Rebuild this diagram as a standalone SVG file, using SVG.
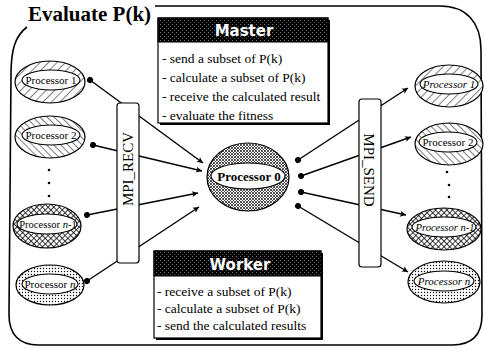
<svg xmlns="http://www.w3.org/2000/svg" width="486" height="350" viewBox="0 0 486 350">
<defs>
<style>
.frame{fill:none;stroke:#000;stroke-width:1.6}
.ttl{font-family:"Liberation Serif",serif;font-weight:bold;font-size:21px;fill:#000}
.box{fill:#fff;stroke:#000;stroke-width:1.2}
.shadow{fill:#000}
.hdr{fill:url(#hdrpat);stroke:#000;stroke-width:1}
.htxt{font-family:"DejaVu Sans",sans-serif;font-weight:bold;font-size:15px;fill:#fff;text-anchor:middle}
.btxt{font-family:"Liberation Serif",serif;font-size:13.5px;fill:#000}
.bar{fill:#fff;stroke:#000;stroke-width:1.2}
.btx{font-family:"Liberation Serif",serif;font-size:15px;fill:#000;text-anchor:middle}
.outer{stroke:#000;stroke-width:1.2}
.inner{fill:#fff;stroke:#000;stroke-width:1.1}
.ptxt{font-family:"Liberation Serif",serif;font-size:11px;fill:#000;text-anchor:middle}
.it{font-style:italic}
.conn{stroke:#000;stroke-width:1.4;fill:none;marker-start:url(#dot);marker-end:url(#arr)}
.pdot{fill:#000}
</style>
<pattern id="hdrpat" width="4" height="4" patternUnits="userSpaceOnUse">
<rect width="4" height="4" fill="#000"/>
<rect x="0" y="0" width="1" height="1" fill="#777"/>
<rect x="2" y="2" width="1" height="1" fill="#555"/>
</pattern>
<pattern id="hatch" width="6" height="6" patternUnits="userSpaceOnUse" patternTransform="rotate(45)">
<rect width="6" height="6" fill="#fff"/>
<line x1="0" y1="0" x2="0" y2="6" stroke="#000" stroke-width="1"/>
</pattern>
<pattern id="hatch2" width="5" height="5" patternUnits="userSpaceOnUse" patternTransform="rotate(-45)">
<rect width="5" height="5" fill="#fff"/>
<line x1="0" y1="0" x2="0" y2="5" stroke="#000" stroke-width="1"/>
</pattern>
<pattern id="cross" width="4" height="4" patternUnits="userSpaceOnUse" patternTransform="rotate(45)">
<rect width="4" height="4" fill="#fff"/>
<line x1="0" y1="0" x2="0" y2="4" stroke="#000" stroke-width="1.5"/>
<line x1="0" y1="0" x2="4" y2="0" stroke="#000" stroke-width="1.5"/>
</pattern>
<pattern id="dots" width="3" height="3" patternUnits="userSpaceOnUse">
<rect width="3" height="3" fill="#fff"/>
<circle cx="1.5" cy="1.5" r="0.7" fill="#000"/>
</pattern>
<pattern id="stip" width="3" height="3" patternUnits="userSpaceOnUse">
<rect width="3" height="3" fill="#fff"/>
<circle cx="1" cy="1" r="0.9" fill="#000"/>
<circle cx="2.5" cy="2.5" r="0.5" fill="#000"/>
</pattern>
<marker id="arr" viewBox="0 0 10 10" refX="10" refY="5" markerWidth="7" markerHeight="6" markerUnits="userSpaceOnUse" orient="auto" overflow="visible">
<path d="M0,0 L10,5 L0,10 L2.5,5 Z" fill="#000"/>
</marker>
<marker id="dot" viewBox="0 0 10 10" refX="5" refY="5" markerWidth="6" markerHeight="6" markerUnits="userSpaceOnUse" orient="auto">
<circle cx="5" cy="5" r="5" fill="#000"/>
</marker>
</defs>
<rect width="486" height="350" fill="#fff"/>

<g id="frame">
<path class="frame" d="M155,6 L440,6 C466,6 481,22 481,50 L482,315 C482,335 472,345 452,345 L38,345 C20,345 9,335 9,315 L11,75 C11,50 15,36 27,27"/>
<text class="ttl" x="28" y="21">Evaluate P(k)</text>
</g>

<g id="connectors">
<line class="conn" x1="90" y1="80" x2="203" y2="163"/>
<line class="conn" x1="93" y1="145" x2="202" y2="171"/>
<line class="conn" x1="87" y1="215" x2="198" y2="193"/>
<line class="conn" x1="87" y1="281" x2="199" y2="207"/>
<line class="conn" x1="298" y1="160" x2="408" y2="88"/>
<line class="conn" x1="301" y1="176" x2="411" y2="137"/>
<line class="conn" x1="301" y1="192" x2="406" y2="215"/>
<line class="conn" x1="298" y1="206" x2="408" y2="272"/>
</g>

<g id="mpi_recv">
<rect class="bar" x="117" y="103" width="22" height="160" rx="3"/>
<text class="btx" transform="translate(133,169) rotate(-90)">MPI_RECV</text>
</g>
<g id="mpi_send">
<rect class="bar" x="359" y="99" width="22" height="168" rx="3"/>
<text class="btx" transform="translate(364,170) rotate(90)">MPI_SEND</text>
</g>

<g id="master">
<rect class="shadow" x="160" y="20" width="170" height="105"/>
<rect class="box" x="158" y="18" width="170" height="105"/>
<rect class="hdr" x="158" y="18" width="170" height="24"/>
<text class="htxt" x="244" y="36">Master</text>
<text class="btxt" x="162" y="63">- send a subset of P(k)</text>
<text class="btxt" x="162" y="82">- calculate a subset of P(k)</text>
<text class="btxt" x="162" y="101">- receive the calculated result</text>
<text class="btxt" x="162" y="120">- evaluate the fitness</text>
</g>

<g id="worker">
<rect class="shadow" x="156" y="253" width="167" height="87"/>
<rect class="box" x="154" y="251" width="167" height="87"/>
<rect class="hdr" x="154" y="251" width="167" height="25"/>
<text class="htxt" x="240" y="270">Worker</text>
<text class="btxt" x="157" y="296">- receive a subset of P(k)</text>
<text class="btxt" x="157" y="313">- calculate a subset of P(k)</text>
<text class="btxt" x="157" y="330">- send the calculated results</text>
</g>

<g id="processor0">
<ellipse class="outer" cx="248" cy="177" rx="41" ry="34" fill="url(#stip)"/>
<ellipse class="inner" cx="248" cy="176" rx="37" ry="13"/>
<text class="ptxt" x="249" y="181" style="font-weight:bold;font-size:13px">Processor 0</text>
</g>

<g id="left_p1">
<ellipse class="outer" cx="50" cy="82" rx="35" ry="21" fill="url(#hatch)"/>
<ellipse class="inner" cx="51" cy="80" rx="29" ry="10"/>
<text class="ptxt" x="51" y="84">Processor 1</text>
</g>
<g id="left_p2">
<ellipse class="outer" cx="50" cy="137" rx="35" ry="21" fill="url(#hatch2)"/>
<ellipse class="inner" cx="51" cy="135" rx="29" ry="10"/>
<text class="ptxt" x="51" y="139">Processor 2</text>
</g>
<g id="left_dots">
<circle class="pdot" cx="49" cy="170" r="1.3"/>
<circle class="pdot" cx="49" cy="183" r="1.3"/>
<circle class="pdot" cx="49" cy="196" r="1.3"/>
</g>
<g id="left_pn1">
<ellipse class="outer" cx="47" cy="226" rx="34" ry="22" fill="url(#cross)"/>
<ellipse class="inner" cx="47" cy="224" rx="30" ry="10"/>
<text class="ptxt" x="48" y="228" style="font-size:10.5px">Processor <tspan class="it">n</tspan>-1</text>
</g>
<g id="left_pn">
<ellipse class="outer" cx="50" cy="285" rx="34" ry="20" fill="url(#dots)"/>
<ellipse class="inner" cx="50" cy="284" rx="28" ry="10"/>
<text class="ptxt" x="50" y="288">Processor <tspan class="it">n</tspan></text>
</g>

<g id="right_p1">
<ellipse class="outer" cx="449" cy="86" rx="34" ry="21" fill="url(#hatch)"/>
<ellipse class="inner" cx="449" cy="84" rx="29" ry="10"/>
<text class="ptxt it" x="449" y="88">Processor 1</text>
</g>
<g id="right_p2">
<ellipse class="outer" cx="449" cy="144" rx="34" ry="21" fill="url(#hatch2)"/>
<ellipse class="inner" cx="448" cy="142" rx="29" ry="10"/>
<text class="ptxt" x="448" y="146">Processor 2</text>
</g>
<g id="right_dots">
<circle class="pdot" cx="447" cy="172" r="1.3"/>
<circle class="pdot" cx="449" cy="185" r="1.3"/>
<circle class="pdot" cx="449" cy="197" r="1.3"/>
</g>
<g id="right_pn1">
<ellipse class="outer" cx="444" cy="229" rx="37" ry="21" fill="url(#cross)"/>
<ellipse class="inner" cx="444" cy="227" rx="32" ry="10"/>
<text class="ptxt it" x="445" y="231" style="font-size:10.5px">Processor n-1</text>
</g>
<g id="right_pn">
<ellipse class="outer" cx="444" cy="282" rx="36" ry="21" fill="url(#dots)"/>
<ellipse class="inner" cx="444" cy="281" rx="30" ry="10"/>
<text class="ptxt it" x="444" y="285">Processor n</text>
</g>
</svg>
